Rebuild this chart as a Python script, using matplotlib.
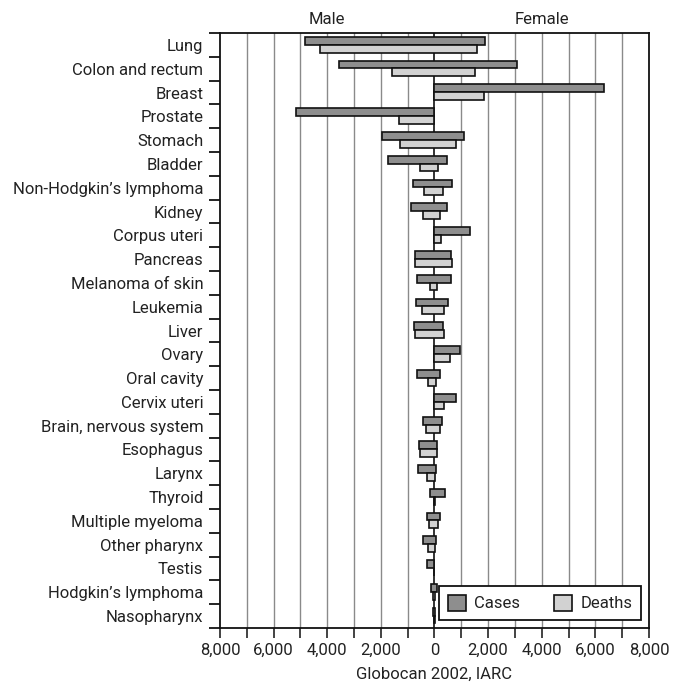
import matplotlib
matplotlib.use("Agg")
import matplotlib.pyplot as plt
from matplotlib.ticker import FuncFormatter, MultipleLocator
import numpy as np

plt.rcParams["font.family"] = ["Roboto", "DejaVu Sans"]

categories = [
    "Lung", "Colon and rectum", "Breast", "Prostate", "Stomach", "Bladder",
    "Non-Hodgkin\u2019s lymphoma", "Kidney", "Corpus uteri", "Pancreas",
    "Melanoma of skin", "Leukemia", "Liver", "Ovary", "Oral cavity",
    "Cervix uteri", "Brain, nervous system", "Esophagus", "Larynx", "Thyroid",
    "Multiple myeloma", "Other pharynx", "Testis", "Hodgkin\u2019s lymphoma",
    "Nasopharynx",
]

male_cases = [4830, 3560, 0, 5160, 1950, 1740, 810, 860, 0, 710,
              660, 680, 760, 0, 660, 0, 420, 580, 600, 170,
              290, 420, 290, 130, 50]
female_cases = [1900, 3070, 6320, 0, 1110, 470, 650, 470, 1320, 610,
                610, 510, 320, 950, 200, 810, 270, 110, 50, 410,
                200, 50, 0, 100, 10]
male_deaths = [4270, 1590, 0, 1330, 1290, 530, 390, 420, 0, 720,
               160, 450, 720, 0, 240, 0, 320, 530, 290, 30,
               210, 240, 20, 40, 30]
female_deaths = [1570, 1500, 1840, 0, 810, 140, 310, 200, 240, 650,
                 90, 350, 350, 570, 50, 350, 200, 110, 10, 30,
                 140, 10, 0, 20, 5]

dark = "#8e8e8e"
light = "#d2d2d2"

fig = plt.figure(figsize=(6.76, 6.90), dpi=100)
ax = fig.add_axes([0.3254, 0.090, 0.6346, 0.862])

y = np.arange(len(categories))
mc, fc = np.array(male_cases), np.array(female_cases)
md, fd = np.array(male_deaths), np.array(female_deaths)

# one bar per row running from male side (left) to female side (right)
ax.barh(y - 0.18, mc + fc, left=-mc, height=0.33, color=dark,
        edgecolor="#111111", linewidth=1.2, zorder=3, label="Cases")
ax.barh(y + 0.15, md + fd, left=-md, height=0.33, color=light,
        edgecolor="#111111", linewidth=1.2, zorder=3, label="Deaths")

ax.set_xlim(-8000, 8000)
ax.set_ylim(len(categories) - 0.5, -0.5)

# vertical grid every 1000, zero line black
for xv in range(-7000, 8000, 1000):
    ax.axvline(xv, color="#111111" if xv == 0 else "#8a8a8a",
               linewidth=1.2 if xv == 0 else 1.0, zorder=1)

ax.xaxis.set_major_locator(MultipleLocator(2000))
ax.xaxis.set_minor_locator(MultipleLocator(1000))
ax.xaxis.set_major_formatter(FuncFormatter(lambda v, p: f"{abs(v):,.0f}"))
ax.tick_params(axis="x", which="both", direction="out", length=7,
               width=1.2, labelsize=12, pad=4, colors="#222222")

ax.set_yticks(y)
ax.set_yticklabels(categories)
ax.set_yticks(np.arange(-0.5, len(categories), 1.0), minor=True)
ax.tick_params(axis="y", which="major", length=0, labelsize=12, pad=12,
               colors="#222222")
ax.tick_params(axis="y", which="minor", direction="out", length=8, width=1.2)

for s in ax.spines.values():
    s.set_linewidth(1.3)
    s.set_color("#111111")

ax.set_xlabel("Globocan 2002, IARC", fontsize=12, labelpad=6, color="#222222")

ax.text(-4000, -0.75, "Male", ha="center", va="bottom", fontsize=12, color="#222222")
ax.text(4000, -0.75, "Female", ha="center", va="bottom", fontsize=12, color="#222222")

leg = ax.legend(loc="lower right", ncol=2, fontsize=12, frameon=True,
                fancybox=False, edgecolor="#111111", framealpha=1,
                handlelength=1.1, handleheight=1.1, columnspacing=2.0,
                borderaxespad=0.5, borderpad=0.5, handletextpad=0.5)
leg.get_frame().set_linewidth(1.3)
for t in leg.get_texts():
    t.set_color("#222222")

fig.savefig("out.png", dpi=100)
